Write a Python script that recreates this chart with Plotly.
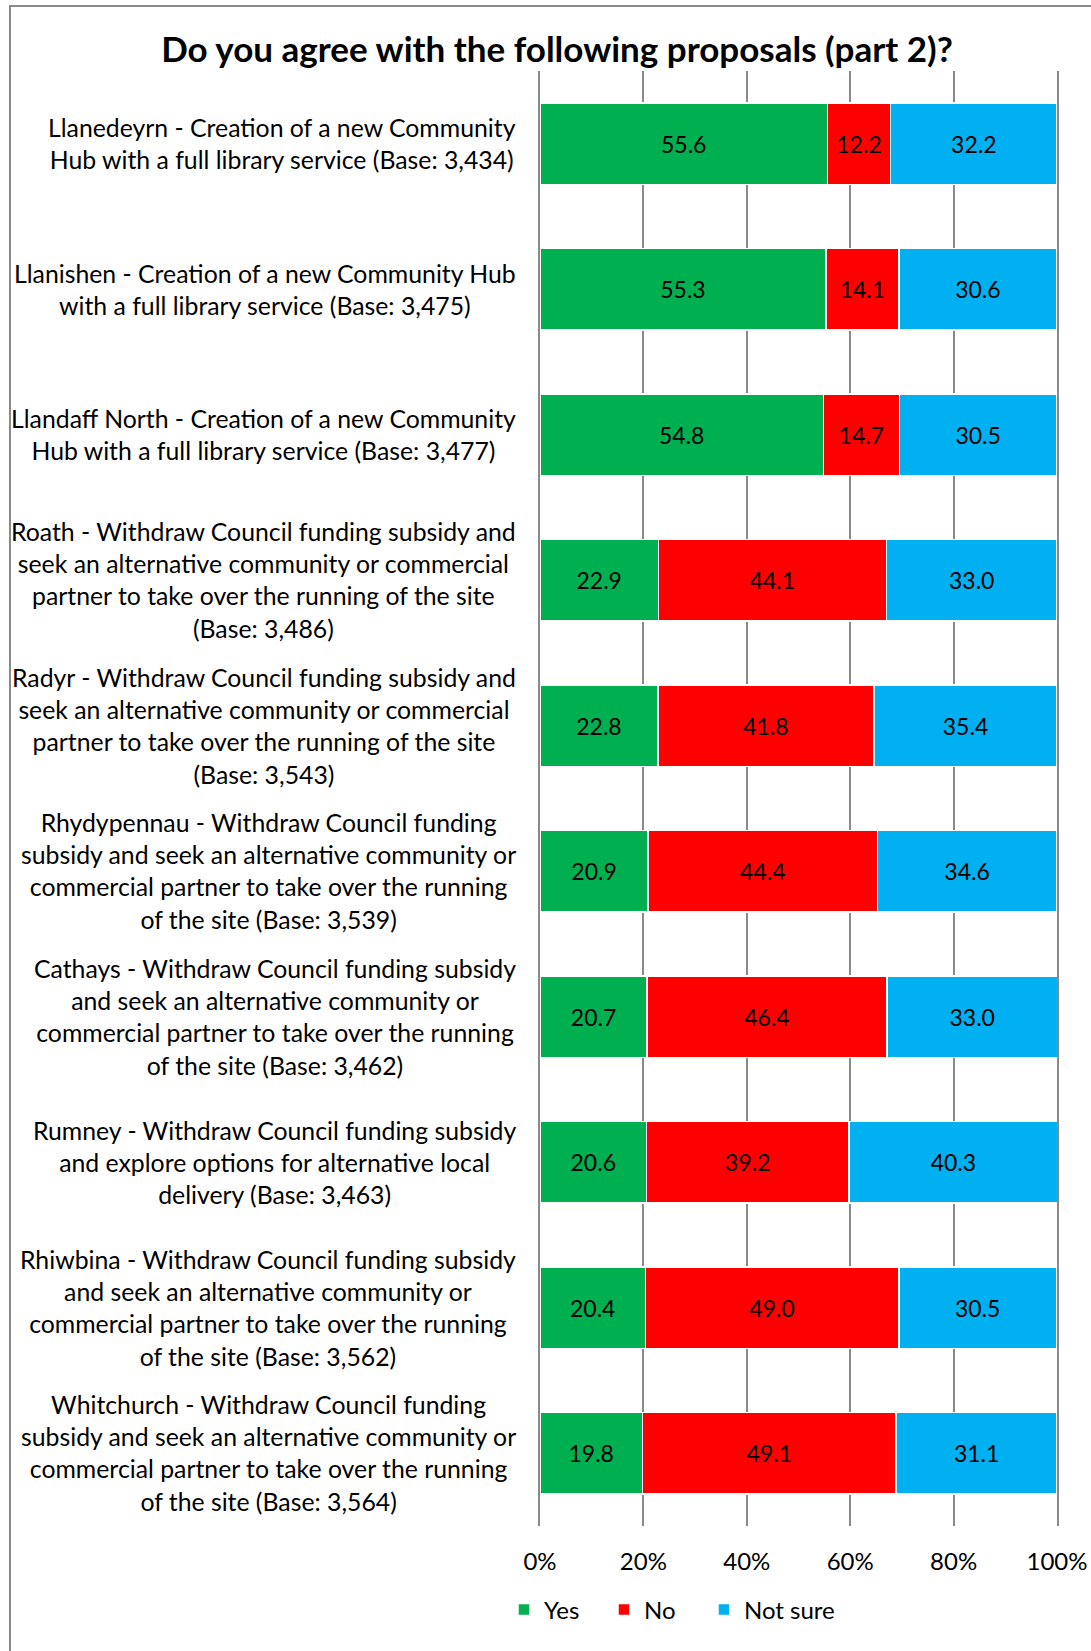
import plotly.graph_objects as go

places = ["Llanedeyrn", "Llanishen", "Llandaff North", "Roath", "Radyr",
          "Rhydypennau", "Cathays", "Rumney", "Rhiwbina", "Whitchurch"]

labels = [
    "Llanedeyrn - Creation of a new Community<br>Hub with a full library service (Base: 3,434)",
    "Llanishen - Creation of a new Community Hub<br>with a full library service (Base: 3,475)",
    "Llandaff North - Creation of a new Community<br>Hub with a full library service (Base: 3,477)",
    "Roath - Withdraw Council funding subsidy and<br>seek an alternative community or commercial<br>partner to take over the running of the site<br>(Base: 3,486)",
    "Radyr - Withdraw Council funding subsidy and<br>seek an alternative community or commercial<br>partner to take over the running of the site<br>(Base: 3,543)",
    "Rhydypennau - Withdraw Council funding<br>subsidy and seek an alternative community or<br>commercial partner to take over the running<br>of the site (Base: 3,539)",
    "Cathays - Withdraw Council funding subsidy<br>and seek an alternative community or<br>commercial partner to take over the running<br>of the site (Base: 3,462)",
    "Rumney - Withdraw Council funding subsidy<br>and explore options for alternative local<br>delivery (Base: 3,463)",
    "Rhiwbina - Withdraw Council funding subsidy<br>and seek an alternative community or<br>commercial partner to take over the running<br>of the site (Base: 3,562)",
    "Whitchurch - Withdraw Council funding<br>subsidy and seek an alternative community or<br>commercial partner to take over the running<br>of the site (Base: 3,564)",
]

yes = [55.6, 55.3, 54.8, 22.9, 22.8, 20.9, 20.7, 20.6, 20.4, 19.8]
no = [12.2, 14.1, 14.7, 44.1, 41.8, 44.4, 46.4, 39.2, 49.0, 49.1]
not_sure = [32.2, 30.6, 30.5, 33.0, 35.4, 34.6, 33.0, 40.3, 30.5, 31.1]

tick_vals = [0, 20, 40, 60, 80, 100]
tick_text = ["0%", "20%", "40%", "60%", "80%", "100%"]

series_names = ["Yes", "No", "Not sure"]
series_values = [yes, no, not_sure]
series_colors = ["#00B050", "#FF0000", "#00B0F0"]

FONT = "Lato, 'Open Sans', sans-serif"
W, H = 1091, 1651
ML, MR, MT, MB = 540, 34, 71, 125
PW, PH = W - ML - MR, H - MT - MB
GRID = "#8a8a8a"


def px_x(px):
    return (px - ML) / PW


def px_y(py):
    return 1 - (py - MT) / PH


legend_ids = ["legend", "legend2", "legend3"]
legend_px = [504, 604, 704]

fig = go.Figure()
for name, vals, col, lg in zip(series_names, series_values, series_colors, legend_ids):
    fig.add_trace(go.Bar(
        y=places, x=vals, name=name, orientation="h", legend=lg,
        marker=dict(color=col, line=dict(color="white", width=1.5)),
        text=[f"{v:.1f}" for v in vals], textposition="inside",
        insidetextanchor="middle",
        textfont=dict(family=FONT, size=23, color="black"),
        constraintext="none",
    ))

for p, lab in zip(places, labels):
    fig.add_annotation(
        x=0, xref="paper", y=p, yref="y", xshift=-22,
        text=lab, showarrow=False, xanchor="right", yanchor="middle",
        align="center", font=dict(family=FONT, size=24.8, color="black"),
    )

# chart frame (left and top edges visible)
fig.add_shape(type="rect", xref="paper", yref="paper",
              x0=px_x(10), x1=px_x(W + 20), y0=px_y(6), y1=px_y(H + 20),
              line=dict(color="#8a8a8a", width=2), fillcolor="rgba(0,0,0,0)", layer="above")

legend_common = dict(orientation="h", xanchor="left", y=px_y(1610), yanchor="middle",
                     font=dict(family=FONT, size=24, color="black"),
                     itemwidth=30, bgcolor="rgba(0,0,0,0)")

fig.update_layout(
    template="none",
    width=W, height=H,
    margin=dict(l=ML, r=MR, t=MT, b=MB, autoexpand=False),
    barmode="stack", bargap=0.44,
    plot_bgcolor="white", paper_bgcolor="white",
    title=dict(text="<b>Do you agree with the following proposals (part 2)?</b>",
               x=px_x(557), xref="paper", xanchor="center",
               y=1 - 50 / H, yanchor="middle",
               font=dict(family=FONT, size=35, color="black")),
    font=dict(family=FONT, size=24, color="black"),
    legend=dict(x=px_x(legend_px[0]), **legend_common),
    legend2=dict(x=px_x(legend_px[1]), **legend_common),
    legend3=dict(x=px_x(legend_px[2]), **legend_common),
    showlegend=True,
)
fig.update_xaxes(range=[0, 100], tickvals=tick_vals, ticktext=tick_text,
                 showgrid=True, gridcolor=GRID, gridwidth=1.5,
                 zeroline=False, showline=False, automargin=False,
                 ticks="outside", ticklen=14, tickcolor="rgba(0,0,0,0)",
                 tickfont=dict(family=FONT, size=24, color="black"),
                 fixedrange=True)
fig.update_yaxes(autorange="reversed", showticklabels=False, showgrid=False,
                 zeroline=False, showline=True, mirror=True, automargin=False,
                 ticks="", linecolor=GRID, linewidth=1.5, fixedrange=True)

fig.write_html("out.html", config={"displayModeBar": False},
               post_script="document.body.style.margin='0';")
